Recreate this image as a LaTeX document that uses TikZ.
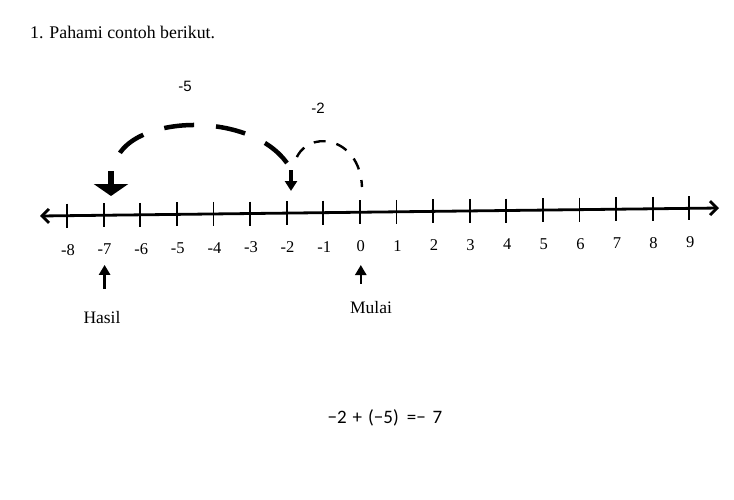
\documentclass[tikz,border=0pt]{standalone}
\usepackage{fontspec}
\setmainfont{Liberation Serif}
\newfontfamily\arialfont{Liberation Sans}
\newfontfamily\calibrifont{Carlito}
\usetikzlibrary{positioning, arrows.meta, calc}

\begin{document}
\begin{tikzpicture}[x=1pt, y=-1pt,
  axis/.style={line width=2.8pt, {Straight Barb[length=7pt, width=14pt]}-{Straight Barb[length=7pt, width=14pt]}},
  tickmark/.style={line width=1.8pt},
  numlbl/.style={font=\fontsize{16.5}{19}\selectfont, inner sep=0pt},
  wordlbl/.style={font=\fontsize{17.5}{20}\selectfont, inner sep=0pt},
  jumplbl/.style={font=\arialfont\fontsize{15}{18}\selectfont, inner sep=0pt},
  bigjump/.style={line width=4.5pt, dash pattern=on 30pt off 22pt},
  smalljump/.style={line width=2.4pt, dash pattern=on 12pt off 11pt, dash phase=5pt},
  uparr/.style={line width=2.6pt, -{Triangle[width=11pt, length=10pt]}},
]
  \useasboundingbox (0,0) rectangle (734,499);

  \node[anchor=west, font=\fontsize{17.8}{21}\selectfont, inner sep=0pt] (title) at (30,32) {1. Pahami contoh berikut.};

  % number line
  \coordinate (lend) at (40,216);
  \coordinate (rend) at (719,208);
  \draw[axis] (lend) -- (rend);
  \foreach \i in {0,...,17} {
    \pgfmathsetmacro\xx{67+36.6*\i}
    \pgfmathtruncatemacro\n{\i-8}
    \coordinate (t\i) at (\xx, {216-8*(\xx-40)/678});
    \draw[tickmark] ($(t\i)+(0,-12)$) -- ($(t\i)+(0,12)$);
    \node[numlbl] (n\i) at ($(t\i)+(1,34)$) {\n};
  }

  \node[wordlbl] (hasil) at (102,318) {Hasil};
  \node[wordlbl] (mulai) at (371,308) {Mulai};
  \draw[uparr, shorten <=23pt, shorten >=10pt] (hasil.north -| n1.south) -- (n1.south);
  \draw[uparr, shorten <=18pt, shorten >=13pt] (mulai.north -| n8.south) -- (n8.south);

  % jumps
  \coordinate (bigS) at (287,163);
  \coordinate (bigE) at (118,156);
  \coordinate (smallS) at (362,187);
  \coordinate (smallE) at (295,162);
  \draw[bigjump] (bigS) .. controls (250,112) and (140,115) .. (bigE);
  \draw[smalljump] (smallS) .. controls (360,135) and (305,128) .. (smallE);
  \node[jumplbl] (lblbig) at (185,86) {-5};
  \node[jumplbl] (lblsmall) at (318,108) {-2};

  \draw[line width=6pt, -{Triangle[width=34pt, length=12pt]}] (111,171) -- (111,196);
  \draw[line width=3.6pt, -{Triangle[width=12pt, length=10pt]}] (291,170) -- (291,191);

  \node[font=\calibrifont\fontsize{19}{22}\selectfont, inner sep=0pt] (eq) at (385,418)
    {−2\hspace{6pt}+\hspace{6pt}(−5)\hspace{8pt}=−\hspace{7pt}7};
\end{tikzpicture}
\end{document}
